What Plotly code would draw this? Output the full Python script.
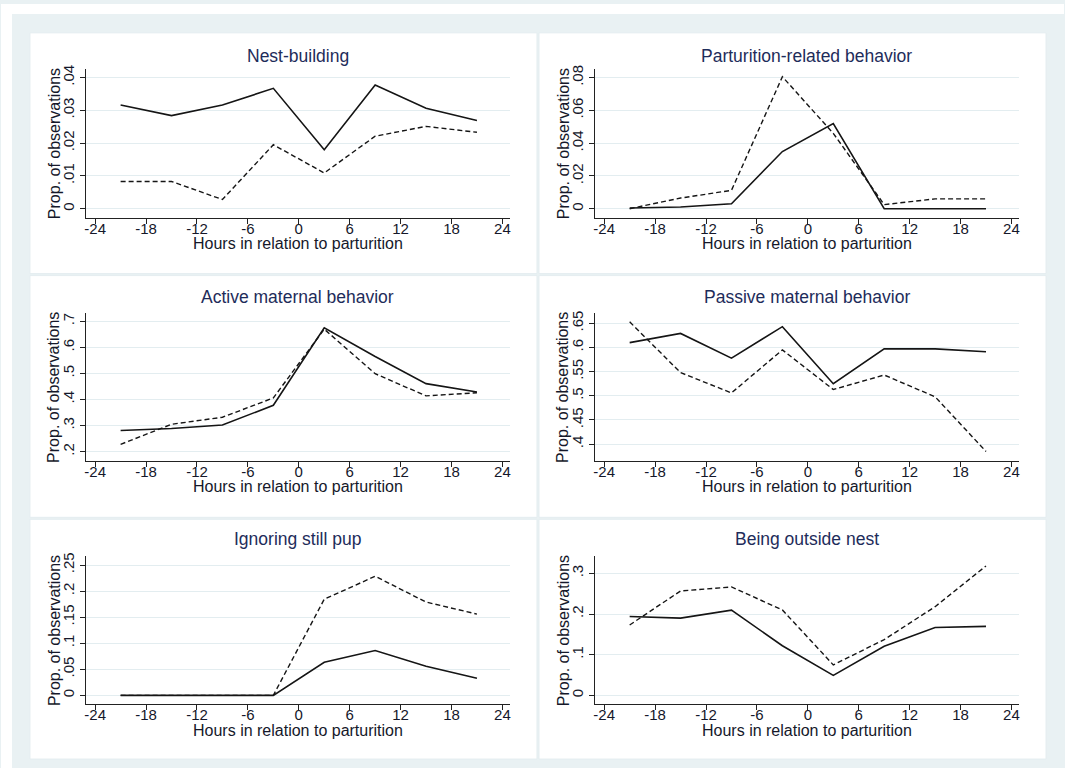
import plotly.graph_objects as go

hours = [-21, -15, -9, -3, 3, 9, 15, 21]

titles = ["Nest-building", "Parturition-related behavior",
          "Active maternal behavior", "Passive maternal behavior",
          "Ignoring still pup", "Being outside nest"]

nest_solid = [0.0316, 0.0284, 0.0316, 0.0367, 0.0180, 0.0377, 0.0306, 0.0269]
nest_dashed = [0.0083, 0.0083, 0.0028, 0.0195, 0.0109, 0.0221, 0.0251, 0.0233]

part_solid = [0.0004, 0.0010, 0.0030, 0.0349, 0.0520, 0.0000, 0.0000, 0.0000]
part_dashed = [0.0000, 0.0065, 0.0112, 0.0806, 0.0460, 0.0025, 0.0060, 0.0060]

active_solid = [0.281, 0.289, 0.302, 0.378, 0.675, 0.565, 0.461, 0.429]
active_dashed = [0.228, 0.305, 0.332, 0.406, 0.670, 0.499, 0.414, 0.426]

passive_solid = [0.610, 0.629, 0.578, 0.643, 0.525, 0.597, 0.597, 0.591]
passive_dashed = [0.653, 0.548, 0.506, 0.595, 0.513, 0.543, 0.498, 0.385]

ignore_solid = [0.0, 0.0, 0.0, 0.0, 0.0635, 0.086, 0.056, 0.033]
ignore_dashed = [0.0, 0.0, 0.0, 0.0, 0.1845, 0.2285, 0.179, 0.156]

outside_solid = [0.194, 0.190, 0.2095, 0.122, 0.049, 0.1206, 0.167, 0.1695]
outside_dashed = [0.173, 0.2567, 0.2665, 0.210, 0.075, 0.137, 0.218, 0.318]

x_ticks = [-24, -18, -12, -6, 0, 6, 12, 18, 24]
y_ticks = [
    [0, 0.01, 0.02, 0.03, 0.04],
    [0, 0.02, 0.04, 0.06, 0.08],
    [0.2, 0.3, 0.4, 0.5, 0.6, 0.7],
    [0.4, 0.45, 0.5, 0.55, 0.6, 0.65],
    [0, 0.05, 0.1, 0.15, 0.2, 0.25],
    [0, 0.1, 0.2, 0.3],
]
y_ticktext = [
    ["0", ".01", ".02", ".03", ".04"],
    ["0", ".02", ".04", ".06", ".08"],
    [".2", ".3", ".4", ".5", ".6", ".7"],
    [".4", ".45", ".5", ".55", ".6", ".65"],
    ["0", ".05", ".1", ".15", ".2", ".25"],
    ["0", ".1", ".2", ".3"],
]
y_ranges = [
    [-0.0028, 0.0427],
    [-0.0056, 0.0855],
    [0.1656, 0.7305],
    [0.366, 0.6705],
    [-0.0172, 0.2672],
    [-0.022, 0.3423],
]
series = [
    (nest_solid, nest_dashed),
    (part_solid, part_dashed),
    (active_solid, active_dashed),
    (passive_solid, passive_dashed),
    (ignore_solid, ignore_dashed),
    (outside_solid, outside_dashed),
]

W, H = 1065, 768
FONT = "Liberation Sans, Arial, sans-serif"
BG = "#E9F1F3"
SEP = "#E4EDF0"
GRID = "#E3EDF0"
TITLE_COL = "#1E2C5A"
TEXT_COL = "#15182A"

# pixel layout
col_plot_x = [(85, 510), (595, 1020)]
row_plot_y = [(65, 215), (311, 459), (555, 704)]
panel_x = [(29, 537), (539, 1047)]
panel_y = [(29, 271), (273, 516), (518, 759)]
title_y = [52, 295, 538]

fig = go.Figure()
shapes = []
annotations = []

def px(x):
    return x / W

def py(y):
    return 1 - y / H

# white strips outside the coloured background (image cropping)
shapes.append(dict(type="rect", xref="paper", yref="paper", x0=0, x1=px(11), y0=0, y1=1,
                   fillcolor="white", line_width=0, layer="below"))
shapes.append(dict(type="rect", xref="paper", yref="paper", x0=0, x1=1, y0=py(10), y1=1,
                   fillcolor="white", line_width=0, layer="below"))

for i in range(6):
    r, c = divmod(i, 2)
    shapes.append(dict(type="rect", xref="paper", yref="paper",
                       x0=px(panel_x[c][0]), x1=px(panel_x[c][1]),
                       y0=py(panel_y[r][1]), y1=py(panel_y[r][0]),
                       fillcolor="white", line=dict(color=SEP, width=1), layer="below"))
    xa = "xaxis" if i == 0 else f"xaxis{i+1}"
    ya = "yaxis" if i == 0 else f"yaxis{i+1}"
    xref = "x" if i == 0 else f"x{i+1}"
    yref = "y" if i == 0 else f"y{i+1}"
    x0, x1 = col_plot_x[c]
    y0, y1 = row_plot_y[r]
    solid, dashed = series[i]
    fig.add_trace(go.Scatter(x=hours, y=solid, mode="lines", xaxis=xref, yaxis=yref,
                             line=dict(color="#151515", width=1.6), showlegend=False,
                             hoverinfo="skip"))
    fig.add_trace(go.Scatter(x=hours, y=dashed, mode="lines", xaxis=xref, yaxis=yref,
                             line=dict(color="#151515", width=1.4, dash="5px,3px"),
                             showlegend=False, hoverinfo="skip"))
    fig.layout[xa] = dict(domain=[px(x0), px(x1)], anchor=yref, range=[-25.1, 24.9],
                          tickvals=x_ticks, ticktext=[str(t) for t in x_ticks],
                          ticks="outside", ticklen=5, tickwidth=1.2, tickcolor="#222",
                          ticklabelstandoff=-8,
                          showline=True, linecolor="#222", linewidth=1.3,
                          showgrid=False, zeroline=False, fixedrange=True,
                          tickfont=dict(family=FONT, size=15, color=TEXT_COL))
    fig.layout[ya] = dict(domain=[py(y1), py(y0)], anchor=xref, range=y_ranges[i],
                          tickvals=y_ticks[i], ticktext=y_ticktext[i], tickangle=-90,
                          ticks="outside", ticklen=5, tickwidth=1.2, tickcolor="#222",
                          showline=True, linecolor="#222", linewidth=1.3,
                          showgrid=True, gridcolor=GRID, gridwidth=1.2, zeroline=False,
                          fixedrange=True,
                          tickfont=dict(family=FONT, size=15, color=TEXT_COL))
    annotations.append(dict(text=titles[i], xref="paper", yref="paper",
                            x=px((x0 + x1) / 2), y=py(title_y[r]), showarrow=False,
                            xanchor="center", yanchor="middle",
                            font=dict(family=FONT, size=17.5, color=TITLE_COL)))
    annotations.append(dict(text="Hours in relation to parturition", xref="paper", yref="paper",
                            x=px((x0 + x1) / 2), y=py(y1 + 26), showarrow=False,
                            xanchor="center", yanchor="middle",
                            font=dict(family=FONT, size=16, color=TEXT_COL)))
    annotations.append(dict(text="Prop. of observations", xref="paper", yref="paper",
                            x=px(x0 - 32), y=py((y0 + y1) / 2), showarrow=False,
                            textangle=-90, xanchor="center", yanchor="middle",
                            font=dict(family=FONT, size=16, color=TEXT_COL)))

fig.update_layout(width=W, height=H, margin=dict(l=0, r=0, t=0, b=0),
                  paper_bgcolor=BG, plot_bgcolor="white",
                  shapes=shapes, annotations=annotations, showlegend=False)

fig.write_html("out.html", config={"displayModeBar": False},
               post_script="document.body.style.margin='0';document.body.style.overflow='hidden';")
